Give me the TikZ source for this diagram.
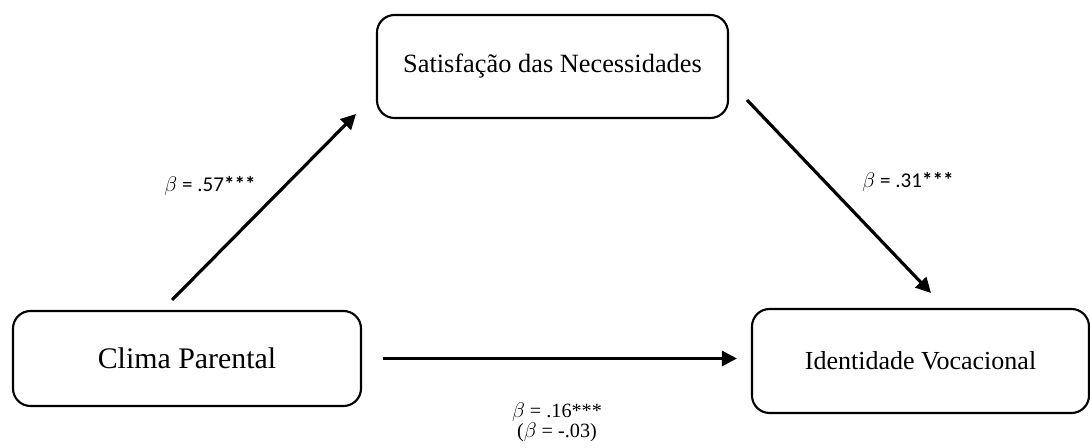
\documentclass[tikz,border=0pt]{standalone}
\usepackage{fontspec}
\setmainfont{Liberation Serif}
\newfontfamily\calfont{Carlito}
\usetikzlibrary{arrows.meta}
\usetikzlibrary{positioning}

\begin{document}
\begin{tikzpicture}[
    varbox/.style={draw,line width=1.2pt,rounded corners=0.35cm,align=center},
    patharrow/.style={line width=1.8pt,-{Triangle[length=0.3cm,width=0.3cm]}},
    coef/.style={font=\calfont\fontsize{12}{14}\selectfont}
]
\useasboundingbox (0,0) rectangle (21.8,8.96);

\node[varbox,minimum width=6.96cm,minimum height=1.9cm,font=\fontsize{17}{19}\selectfont] (clima) at (3.74,1.79) {Clima Parental};
\node[varbox,minimum width=7.02cm,minimum height=2.06cm,font=\fontsize{15}{17}\selectfont] (satisf) at (11.05,7.63) {Satisfação das Necessidades};
\node[varbox,minimum width=6.74cm,minimum height=2.08cm,font=\fontsize{14.8}{17}\selectfont] (ident) at (18.41,1.74) {Identidade Vocacional};

\coordinate (aStart) at (3.44,2.96); %Clima -> Satisfacao
\coordinate (aEnd) at (7.12,6.68);
\coordinate (bStart) at (14.94,6.96); %Satisfacao -> Identidade
\coordinate (bEnd) at (18.62,3.1);

\draw[patharrow] (aStart) -- (aEnd);
\draw[patharrow] (bStart) -- (bEnd);
\draw[patharrow,shorten <=0.42cm,shorten >=0.28cm] (clima.east) -- (clima.east -| ident.west);

\node[coef] (coefA) at (4.2,5.24) {$\beta$ = .57\textbf{***}};
\node[coef] (coefB) at (18.16,5.32) {$\beta$ = .31\textbf{***}};
\node[align=center,font=\fontsize{11.5}{11.5}\selectfont] (coefC) at (11.14,0.52) {$\beta$ = .16***\\($\beta$ = -.03)};
\end{tikzpicture}
\end{document}
